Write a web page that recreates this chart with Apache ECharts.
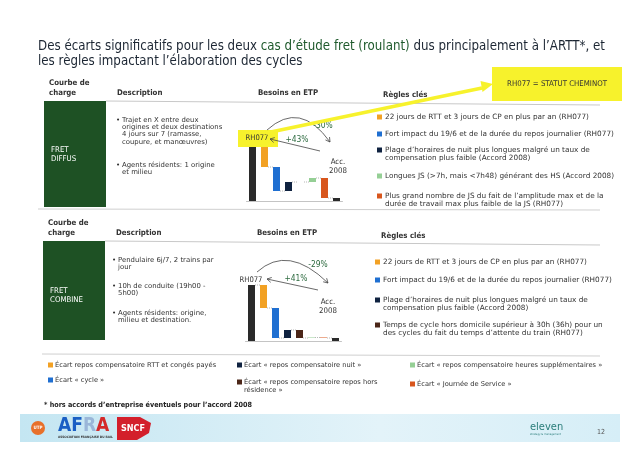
<!DOCTYPE html>
<html><head><meta charset="utf-8">
<script src="https://cdn.jsdelivr.net/npm/echarts@6/dist/echarts.min.js"></script>
<style>html,body{margin:0;padding:0;background:#fff}#c{width:640px;height:452px}</style>
</head><body><div id="c"></div>
<script>
// ---------- data ----------
const categories = ['RH077', 'RTT et CP', 'Cycle', 'Nuit', 'Hors résidence', 'Heures sup.', 'Journée de Service', 'Acc. 2008'];
const diffusSteps = [56, -22, -24, 9, 0, 4, -20, 3];      // first & last are totals
const combineSteps = [56, -23, -30, 8, -8, 0.5, -0.5, 3];
const diffusLabels = { down: '-30%', up: '+43%' };
const combineLabels = { down: '-29%', up: '+41%' };
const diffusDesc = [
  ['Trajet en X entre deux', 'origines et deux destinations', '4 jours sur 7 (ramasse,', 'coupure, et manœuvres)'],
  ['Agents résidents: 1 origine', 'et milieu']
];
const combineDesc = [
  ['Pendulaire 6j/7, 2 trains par', 'jour'],
  ['10h de conduite (19h00 -', '5h00)'],
  ['Agents résidents: origine,', 'milieu et destination.']
];
const diffusRules = [
  [1, ['22 jours de RTT et 3 jours de CP en plus par an (RH077)']],
  [2, ['Fort impact du 19/6 et de la durée du repos journalier (RH077)']],
  [3, ['Plage d’horaires de nuit plus longues malgré un taux de', 'compensation plus faible (Accord 2008)']],
  [5, ['Longues JS (>7h, mais <7h48) générant des HS (Accord 2008)']],
  [6, ['Plus grand nombre de JS du fait de l’amplitude max et de la', 'durée de travail max plus faible de la JS (RH077)']]
];
const combineRules = [
  [1, ['22 jours de RTT et 3 jours de CP en plus par an (RH077)']],
  [2, ['Fort impact du 19/6 et de la durée du repos journalier (RH077)']],
  [3, ['Plage d’horaires de nuit plus longues malgré un taux de', 'compensation plus faible (Accord 2008)']],
  [4, ['Temps de cycle hors domicile supérieur à 30h (36h) pour un', 'des cycles du fait du temps d’attente du train (RH077)']]
];
const legendItems = [
  [1, ['Écart repos compensatoire RTT et congés payés']],
  [2, ['Écart « cycle »']],
  [3, ['Écart « repos compensatoire nuit »']],
  [4, ['Écart « repos compensatoire repos hors', 'résidence »']],
  [5, ['Écart « repos compensatoire heures supplémentaires »']],
  [6, ['Écart « Journée de Service »']]
];

// ---------- styles ----------
const palette = ['#2a2a2a', '#f2a124', '#1f6fd1', '#0f2240', '#4b2618', '#95cf95', '#d8561d', '#2a2a2a'];
const F = "'DejaVu Sans Condensed','Liberation Sans Narrow','DejaVu Sans',sans-serif";
const FB = "'DejaVu Sans',sans-serif";
const TXT = '#333';
const GREEN = '#1e5124';
const YEL = '#f7f22c';

function waterfall(steps) {
  const base = [], val = [], levels = [];
  let level = 0;
  steps.forEach((v, i) => {
    if (i === 0 || i === steps.length - 1) { base.push(0); val.push(v); level = v; }
    else if (v >= 0) { base.push(level); val.push(v); level += v; }
    else { base.push(level + v); val.push(-v); level += v; }
    levels.push(level);
  });
  return { base, val, levels };
}

function barSeries(steps, idx) {
  const w = waterfall(steps);
  return [
    { type: 'bar', xAxisIndex: idx, yAxisIndex: idx, stack: 's' + idx, barWidth: 7, silent: true,
      itemStyle: { color: 'transparent' }, data: w.base },
    { type: 'bar', xAxisIndex: idx, yAxisIndex: idx, stack: 's' + idx, barWidth: 7,
      itemStyle: { color: p => palette[p.dataIndex] }, data: w.val },
    { type: 'custom', xAxisIndex: idx, yAxisIndex: idx, silent: true, z: 1,
      data: w.levels.slice(0, -1).map((l, i) => [i, l]),
      renderItem: (params, api) => {
        const i = api.value(0), l = api.value(1);
        const a = api.coord([i, l]), b = api.coord([i + 1, l]);
        return { type: 'line', shape: { x1: a[0] + 3.5, y1: a[1], x2: b[0] - 3.5, y2: b[1] },
          style: { stroke: '#999', lineWidth: 0.7, lineDash: [1, 1] } };
      } }
  ];
}

// ---------- graphic helpers ----------
const G = [];
function T(x, y, text, o) {
  o = o || {};
  G.push({ type: 'text', x, y, z: o.z || 10, style: { text, font: (o.w || 'normal') + ' ' + (o.s || 7.3) + 'px ' + (o.f || F),
    fill: o.c || TXT, align: o.a || 'left', verticalAlign: 'middle' } });
}
function R(x, y, w, h, fill, z) { G.push({ type: 'rect', z: z || 5, shape: { x, y, width: w, height: h }, style: { fill } }); }
function L(x1, y1, x2, y2, stroke, lw, z) { G.push({ type: 'line', z: z || 5, shape: { x1, y1, x2, y2 }, style: { stroke, lineWidth: lw || 1 } }); }
function head(tx, ty, fx, fy, stroke, len) {
  const dx = tx - fx, dy = ty - fy, d = Math.hypot(dx, dy), ux = dx / d, uy = dy / d;
  const a = Math.PI / 6, pts = [];
  [a, -a].forEach(t => {
    const rx = ux * Math.cos(t) - uy * Math.sin(t), ry = ux * Math.sin(t) + uy * Math.cos(t);
    pts.push([tx - rx * len, ty - ry * len]);
  });
  G.push({ type: 'polyline', z: 12, shape: { points: [pts[0], [tx, ty], pts[1]] }, style: { stroke, lineWidth: 0.8, fill: null } });
}

// title
G.push({ type: 'text', x: 38, y: 47, z: 10, style: { text: '{a|Des écarts significatifs pour les deux }{g|cas d’étude fret (roulant)}{a| dus principalement à l’ARTT*, et}',
  rich: { a: { font: '13.2px ' + F, fill: '#1c2633' }, g: { font: '13.2px ' + F, fill: '#1f5a2c' } }, verticalAlign: 'middle' } });
T(38, 62, 'les règles impactant l’élaboration des cycles', { s: 13.2, c: '#1c2633' });

// panel builder
function panel(o) {
  T(o.hx, o.hy - 10, 'Courbe de', { s: 7.8, w: 'bold', c: '#333' });
  T(o.hx, o.hy, 'charge', { s: 7.8, w: 'bold', c: '#333' });
  T(o.hx + 68, o.hy, 'Description', { s: 7.8, w: 'bold' });
  T(o.hx + 209, o.hy, 'Besoins en ETP', { s: 7.8, w: 'bold' });
  T(o.rx + 3, o.ry, 'Règles clés', { s: 7.8, w: 'bold' });
  L(o.hx + 57, o.hy + 8, 600, o.hy + 12, '#c8c8c8', 1);
  R(o.hx - 5, o.hy + 8, 62, o.bh, GREEN);
  T(o.hx + 2, o.fy, 'FRET', { s: 7.8, c: '#fff' });
  T(o.hx + 2, o.fy + 9, o.name, { s: 7.8, c: '#fff' });
  o.desc.forEach((b, bi) => {
    T(o.dx - 6, o.dy[bi], '•', { s: 7, f: FB });
    b.forEach((line, li) => T(o.dx, o.dy[bi] + li * 7.3, line, { s: 6.9, f: FB }));
  });
  o.rules.forEach((r, ri) => {
    R(o.rx - 3, o.ruy[ri] - 2.5, 5, 5, palette[r[0]], 6);
    r[1].forEach((line, li) => T(o.rx + 5, o.ruy[ri] + li * 8.2, line, { s: 7.3, f: FB }));
  });
}
panel({ hx: 49, hy: 93, rx: 380, ry: 95, bh: 106, fy: 150, name: 'DIFFUS', dx: 122, dy: [120, 165],
  desc: diffusDesc, rules: diffusRules, ruy: [117, 134, 150, 176, 196] });
panel({ hx: 48, hy: 233, rx: 378, ry: 236, bh: 99, fy: 291, name: 'COMBINE', dx: 118, dy: [260, 286, 313],
  desc: combineDesc, rules: combineRules, ruy: [262, 280, 300, 325] });
L(38, 209, 600, 210, '#cfcfcf', 1);
L(42, 354, 600, 356, '#cfcfcf', 1);

// chart annotations top
R(238, 130, 40, 17, YEL, 7);
T(257, 138, 'RH077', { s: 7.6, a: 'center', z: 11 });
G.push({ type: 'bezierCurve', z: 11, shape: { x1: 267, y1: 130, x2: 330, y2: 142, cpx1: 300, cpy1: 100 }, style: { stroke: '#444', lineWidth: 0.8, fill: null } });
head(330, 142, 300, 100, '#444', 5);
L(320, 151, 270, 139, '#444', 0.8, 11); head(270, 139, 320, 151, '#444', 5);
T(323, 126, diffusLabels.down, { s: 8.4, c: '#2e6b40', a: 'center', z: 11 });
T(297, 140, diffusLabels.up, { s: 8.4, c: '#2e6b40', a: 'center', z: 11 });
T(338, 162, 'Acc.', { s: 7.8, a: 'center' });
T(338, 171, '2008', { s: 7.8, a: 'center' });
// yellow arrow & box
L(266, 133, 482, 88, YEL, 3.5, 14);
G.push({ type: 'polygon', z: 14, shape: { points: [[493, 84], [482.5, 92], [480.5, 81]] }, style: { fill: YEL } });
R(492, 67, 130, 34, YEL, 7);
T(557, 84, 'RH077 = STATUT CHEMINOT', { s: 7.8, a: 'center', z: 11 });

// chart annotations bottom
T(251, 280, 'RH077', { s: 7.6, a: 'center', z: 11 });
G.push({ type: 'bezierCurve', z: 11, shape: { x1: 257, y1: 272, x2: 328, y2: 283, cpx1: 288, cpy1: 244 }, style: { stroke: '#444', lineWidth: 0.8, fill: null } });
head(328, 283, 288, 244, '#444', 5);
L(318, 290, 267, 279, '#444', 0.8, 11); head(267, 279, 318, 290, '#444', 5);
T(318, 265, combineLabels.down, { s: 8.4, c: '#2e6b40', a: 'center', z: 11 });
T(296, 279, combineLabels.up, { s: 8.4, c: '#2e6b40', a: 'center', z: 11 });
T(328, 302, 'Acc.', { s: 7.8, a: 'center' });
T(328, 311, '2008', { s: 7.8, a: 'center' });

// legend
const legPos = [[48, 365], [48, 380], [237, 365], [237, 382], [410, 365], [410, 384]];
legendItems.forEach((it, i) => {
  const p = legPos[i];
  R(p[0], p[1] - 2.5, 5, 5, palette[it[0]], 6);
  it[1].forEach((line, li) => T(p[0] + 7, p[1] + li * 8, line, { s: 6.7, f: FB }));
});
T(44, 405, '* hors accords d’entreprise éventuels pour l’accord 2008', { s: 7.2, w: 'bold', c: '#222' });

// footer band & logos
G.push({ type: 'rect', z: 1, shape: { x: 20, y: 414, width: 600, height: 28 },
  style: { fill: new echarts.graphic.LinearGradient(0, 0, 1, 0, [{ offset: 0, color: '#c4e6f2' }, { offset: 0.6, color: '#e3f3f9' }, { offset: 1, color: '#d6eef7' }]) } });
G.push({ type: 'circle', z: 6, shape: { cx: 38, cy: 428, r: 7 }, style: { fill: '#e8702a' } });
T(38, 428, 'UTP', { s: 4.5, c: '#fff', a: 'center', w: 'bold' });
G.push({ type: 'text', x: 58, y: 426, z: 10, style: { text: '{b|AF}{g|R}{r|A}', verticalAlign: 'middle',
  rich: { b: { font: 'bold 19px ' + F, fill: '#1a5fc4' }, g: { font: 'bold 19px ' + F, fill: '#9ab6d8' }, r: { font: 'bold 19px ' + F, fill: '#d42a2a' } } } });
T(58, 437, 'ASSOCIATION FRANÇAISE DU RAIL', { s: 3.2, c: '#333', w: 'bold' });
G.push({ type: 'polygon', z: 6, shape: { points: [[117, 417], [140, 417], [151, 423], [149, 433], [137, 440], [117, 440]] }, style: { fill: '#d31f2b' } });
T(133, 429, 'SNCF', { s: 9, c: '#fff', a: 'center', w: 'bold' });
T(530, 427, 'eleven', { s: 11, c: '#2a7d7a' });
T(530, 434, 'strategy & management', { s: 2.8, c: '#2a7d7a' });
T(597, 432, '12', { s: 7, c: '#555' });

const option = {
  animation: false,
  grid: [
    { left: 246.5, top: 141, width: 96, height: 60 },
    { left: 245.5, top: 281, width: 96, height: 60 }
  ],
  xAxis: [0, 1].map(i => ({ type: 'category', gridIndex: i, data: categories, axisLabel: { show: false }, axisTick: { show: false },
    axisLine: { lineStyle: { color: '#c4c4c4', width: 1 } } })),
  yAxis: [0, 1].map(i => ({ type: 'value', gridIndex: i, min: 0, max: 60, show: false, splitLine: { show: false } })),
  series: [...barSeries(diffusSteps, 0), ...barSeries(combineSteps, 1)],
  graphic: G
};
echarts.init(document.getElementById('c')).setOption(option);
</script></body></html>
